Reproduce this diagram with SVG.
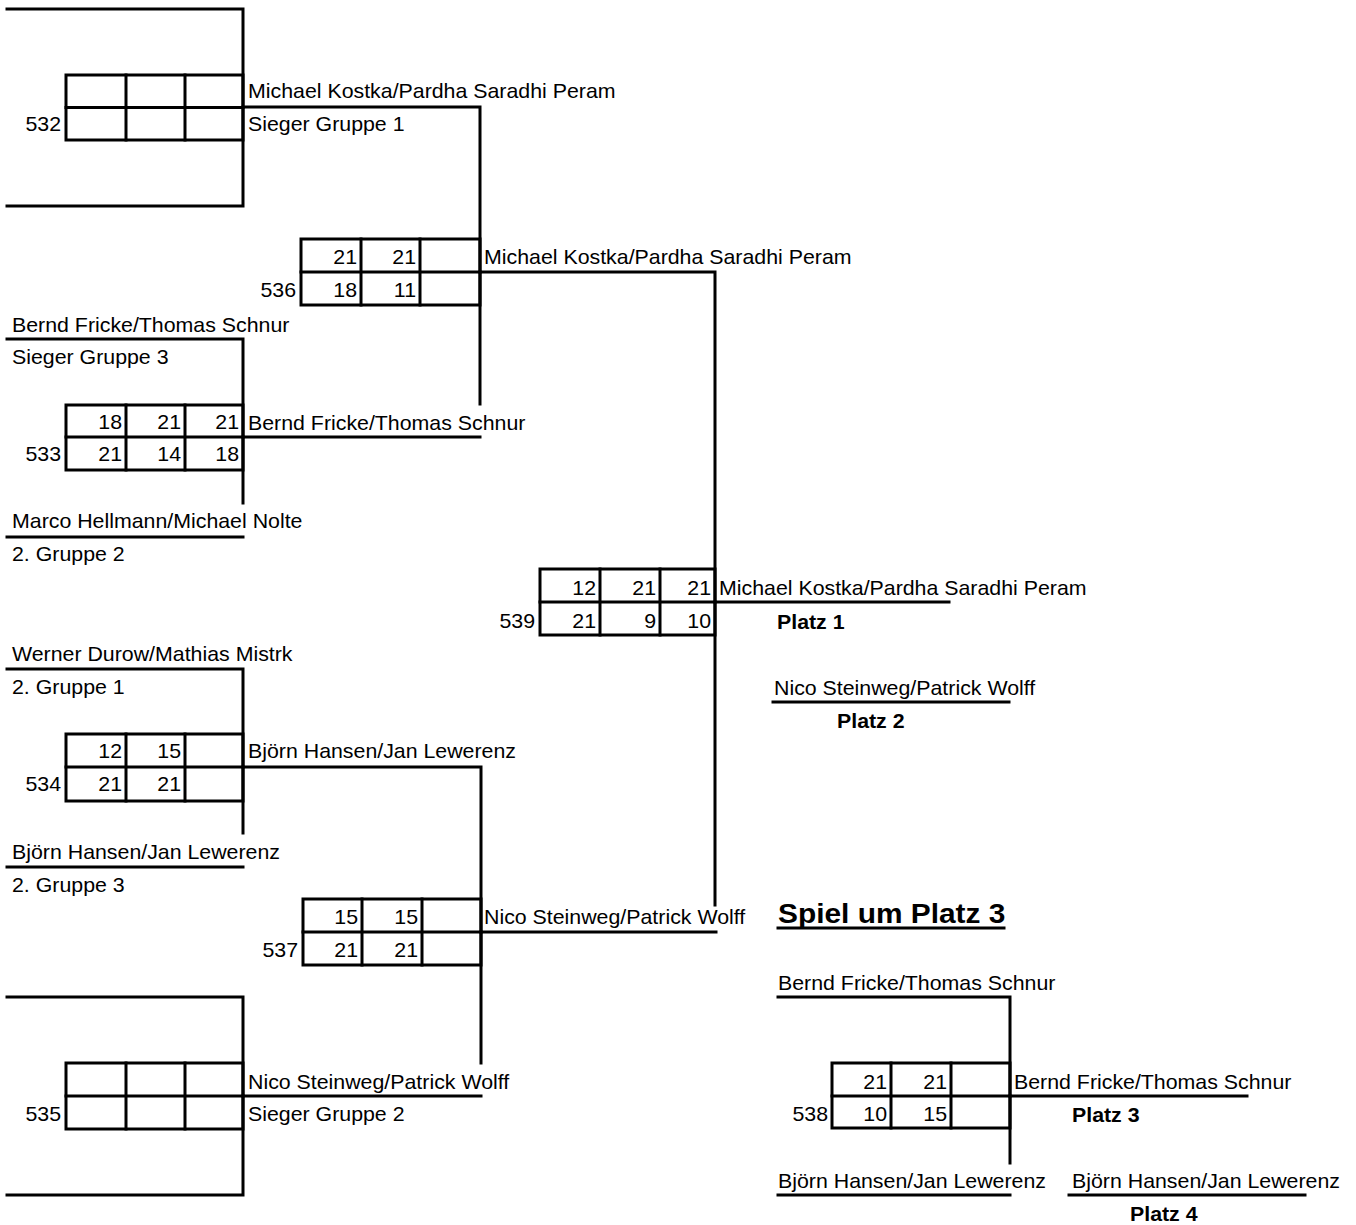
<svg xmlns="http://www.w3.org/2000/svg" width="1356" height="1225" viewBox="0 0 1356 1225">
<style>
.ln{stroke:#000;stroke-width:3;fill:none;stroke-linecap:square}
.bx{stroke:#000;stroke-width:3;fill:none}
text{font-family:"Liberation Sans",Arial,sans-serif;font-size:20px;fill:#000}
.r{text-anchor:end}
.b{font-weight:bold}
.h{font-weight:bold;font-size:28px}
</style>
<rect width="1356" height="1225" fill="#fff"/>
<g id="connectors">
<path class="ln" d="M7,9H243V206H7"/>
<path class="ln" d="M243,107H480V404"/>
<path class="ln" d="M480,272H715V905"/>
<path class="ln" d="M7,339H243V503"/>
<path class="ln" d="M243,437H480"/>
<path class="ln" d="M7,537H243"/>
<path class="ln" d="M715,602H949"/>
<path class="ln" d="M773,702H1009"/>
<path class="ln" d="M7,669H243V833"/>
<path class="ln" d="M243,767H481V1063"/>
<path class="ln" d="M7,867H243"/>
<path class="ln" d="M481,932H716"/>
<path class="ln" d="M7,997H243V1195H7"/>
<path class="ln" d="M243,1096H481"/>
<path class="ln" d="M778,928H1004"/>
<path class="ln" d="M778,997H1010V1163"/>
<path class="ln" d="M1010,1096H1247"/>
<path class="ln" d="M778,1195H1010"/>
<path class="ln" d="M1069,1195H1305"/>
</g>
<g id="m532">
<rect class="bx" x="66" y="75" width="177" height="65"/>
<path class="ln" d="M66,107.5H243M126,75V140M185,75V140"/>
<text class="r" transform="matrix(1.067 0 0 1 61 131)">532</text>
<text transform="matrix(1.067 0 0 1 248 98)">Michael Kostka/Pardha Saradhi Peram</text>
<text transform="matrix(1.067 0 0 1 248 131)">Sieger Gruppe 1</text>
</g>
<g id="m536">
<rect class="bx" x="301" y="239" width="179" height="66"/>
<path class="ln" d="M301,272H480M361,239V305M420,239V305"/>
<text class="r" transform="matrix(1.067 0 0 1 296 297)">536</text>
<text class="r" transform="matrix(1.067 0 0 1 357 264)">21</text>
<text class="r" transform="matrix(1.067 0 0 1 416 264)">21</text>
<text class="r" transform="matrix(1.067 0 0 1 357 297)">18</text>
<text class="r" transform="matrix(1.067 0 0 1 416 297)">11</text>
<text transform="matrix(1.067 0 0 1 484 264)">Michael Kostka/Pardha Saradhi Peram</text>
</g>
<g id="m533">
<text transform="matrix(1.067 0 0 1 12 332)">Bernd Fricke/Thomas Schnur</text>
<text transform="matrix(1.067 0 0 1 12 364)">Sieger Gruppe 3</text>
<rect class="bx" x="66" y="405" width="177" height="65"/>
<path class="ln" d="M66,437H243M126,405V470M185,405V470"/>
<text class="r" transform="matrix(1.067 0 0 1 61 461)">533</text>
<text class="r" transform="matrix(1.067 0 0 1 122 429)">18</text>
<text class="r" transform="matrix(1.067 0 0 1 181 429)">21</text>
<text class="r" transform="matrix(1.067 0 0 1 239 429)">21</text>
<text class="r" transform="matrix(1.067 0 0 1 122 461)">21</text>
<text class="r" transform="matrix(1.067 0 0 1 181 461)">14</text>
<text class="r" transform="matrix(1.067 0 0 1 239 461)">18</text>
<text transform="matrix(1.067 0 0 1 248 430)">Bernd Fricke/Thomas Schnur</text>
<text transform="matrix(1.067 0 0 1 12 528)">Marco Hellmann/Michael Nolte</text>
<text transform="matrix(1.067 0 0 1 12 561)">2. Gruppe 2</text>
</g>
<g id="m539">
<rect class="bx" x="540" y="569" width="175" height="66"/>
<path class="ln" d="M540,602H715M600,569V635M660,569V635"/>
<text class="r" transform="matrix(1.067 0 0 1 535 628)">539</text>
<text class="r" transform="matrix(1.067 0 0 1 596 595)">12</text>
<text class="r" transform="matrix(1.067 0 0 1 656 595)">21</text>
<text class="r" transform="matrix(1.067 0 0 1 711 595)">21</text>
<text class="r" transform="matrix(1.067 0 0 1 596 628)">21</text>
<text class="r" transform="matrix(1.067 0 0 1 656 628)">9</text>
<text class="r" transform="matrix(1.067 0 0 1 711 628)">10</text>
<text transform="matrix(1.067 0 0 1 719 595)">Michael Kostka/Pardha Saradhi Peram</text>
<text class="b" transform="matrix(1.067 0 0 1 777 629)">Platz 1</text>
<text transform="matrix(1.067 0 0 1 774 695)">Nico Steinweg/Patrick Wolff</text>
<text class="b" transform="matrix(1.067 0 0 1 837 728)">Platz 2</text>
</g>
<g id="m534">
<text transform="matrix(1.067 0 0 1 12 661)">Werner Durow/Mathias Mistrk</text>
<text transform="matrix(1.067 0 0 1 12 694)">2. Gruppe 1</text>
<rect class="bx" x="66" y="734" width="177" height="67"/>
<path class="ln" d="M66,767H243M126,734V801M185,734V801"/>
<text class="r" transform="matrix(1.067 0 0 1 61 791)">534</text>
<text class="r" transform="matrix(1.067 0 0 1 122 758)">12</text>
<text class="r" transform="matrix(1.067 0 0 1 181 758)">15</text>
<text class="r" transform="matrix(1.067 0 0 1 122 791)">21</text>
<text class="r" transform="matrix(1.067 0 0 1 181 791)">21</text>
<text transform="matrix(1.067 0 0 1 248 758)">Björn Hansen/Jan Lewerenz</text>
<text transform="matrix(1.067 0 0 1 12 859)">Björn Hansen/Jan Lewerenz</text>
<text transform="matrix(1.067 0 0 1 12 892)">2. Gruppe 3</text>
</g>
<g id="m537">
<rect class="bx" x="303" y="899" width="178" height="66"/>
<path class="ln" d="M303,932H481M362,899V965M422,899V965"/>
<text class="r" transform="matrix(1.067 0 0 1 298 957)">537</text>
<text class="r" transform="matrix(1.067 0 0 1 358 924)">15</text>
<text class="r" transform="matrix(1.067 0 0 1 418 924)">15</text>
<text class="r" transform="matrix(1.067 0 0 1 358 957)">21</text>
<text class="r" transform="matrix(1.067 0 0 1 418 957)">21</text>
<text transform="matrix(1.067 0 0 1 484 924)">Nico Steinweg/Patrick Wolff</text>
</g>
<g id="m535">
<rect class="bx" x="66" y="1063" width="177" height="66"/>
<path class="ln" d="M66,1096H243M126,1063V1129M185,1063V1129"/>
<text class="r" transform="matrix(1.067 0 0 1 61 1121)">535</text>
<text transform="matrix(1.067 0 0 1 248 1089)">Nico Steinweg/Patrick Wolff</text>
<text transform="matrix(1.067 0 0 1 248 1121)">Sieger Gruppe 2</text>
</g>
<g id="m538">
<text class="h" transform="matrix(1.067 0 0 1 778 923)">Spiel um Platz 3</text>
<text transform="matrix(1.067 0 0 1 778 990)">Bernd Fricke/Thomas Schnur</text>
<rect class="bx" x="832" y="1063" width="178" height="65"/>
<path class="ln" d="M832,1096H1010M891,1063V1128M951,1063V1128"/>
<text class="r" transform="matrix(1.067 0 0 1 828 1121)">538</text>
<text class="r" transform="matrix(1.067 0 0 1 887 1089)">21</text>
<text class="r" transform="matrix(1.067 0 0 1 947 1089)">21</text>
<text class="r" transform="matrix(1.067 0 0 1 887 1121)">10</text>
<text class="r" transform="matrix(1.067 0 0 1 947 1121)">15</text>
<text transform="matrix(1.067 0 0 1 1014 1089)">Bernd Fricke/Thomas Schnur</text>
<text class="b" transform="matrix(1.067 0 0 1 1072 1122)">Platz 3</text>
<text transform="matrix(1.067 0 0 1 778 1188)">Björn Hansen/Jan Lewerenz</text>
<text transform="matrix(1.067 0 0 1 1072 1188)">Björn Hansen/Jan Lewerenz</text>
<text class="b" transform="matrix(1.067 0 0 1 1130 1221)">Platz 4</text>
</g>
</svg>
